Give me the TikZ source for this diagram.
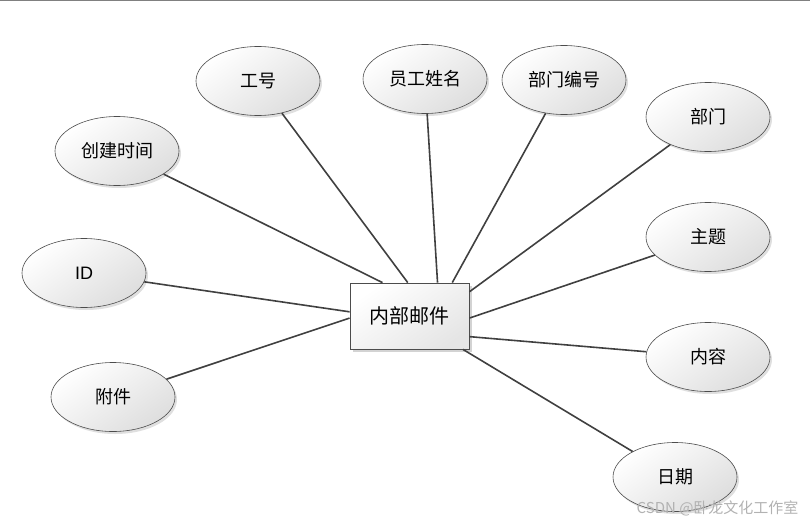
\documentclass[tikz,border=0pt]{standalone}
\usepackage{fontspec}
\setmainfont{Noto Sans CJK SC}
\newfontfamily\latinfont{Liberation Sans}
\usetikzlibrary{shadows,shapes.geometric}

\tikzset{
    attr/.style={ellipse, draw=black!70, line width=0.6pt,
        top color=white, bottom color=black!13, shading angle=35,
        drop shadow={shadow xshift=2pt, shadow yshift=-2.5pt, opacity=0.25},
        minimum width=124pt, minimum height=69pt, inner sep=0pt,
        font=\fontsize{18}{18}\selectfont},
    entity/.style={rectangle, draw=black!70, line width=0.8pt,
        top color=white, bottom color=black!10, shading angle=35,
        drop shadow={shadow xshift=2.5pt, shadow yshift=-2.5pt, opacity=0.35},
        minimum width=119pt, minimum height=66pt, inner sep=0pt,
        font=\fontsize{20}{20}\selectfont},
    link/.style={draw=black!75, line width=1.6pt}
}

\begin{document}
\begin{tikzpicture}[x=1pt, y=-1pt]
    % --- 画布范围 ---
    \useasboundingbox (0,0) rectangle (810,525);
    \draw[black!50, line width=1.5pt] (0,0.5) -- (810,0.5);

    % --- 实体 ---
    \node[entity] (mail) at (409.5,316) {内部邮件};

    % --- 属性 ---
    \node[attr] (gonghao) at (258,81) {工号};
    \node[attr] (xingming) at (425,79) {员工姓名};
    \node[attr] (bianhao) at (564,80) {部门编号};
    \node[attr] (bumen) at (708,117) {部门};
    \node[attr] (chuangjian) at (117,151) {创建时间};
    \node[attr] (id) at (84,273) {\latinfont ID};
    \node[attr] (zhuti) at (708,237) {主题};
    \node[attr] (fujian) at (113,397) {附件};
    \node[attr] (neirong) at (708,357) {内容};
    \node[attr] (riqi) at (675,477) {日期};

    % --- 连线 (落在实体边框上) ---
    \draw[link] (gonghao) -- (mail.93);
    \draw[link] (xingming) -- (mail.50);
    \draw[link] (bianhao) -- (mail.38);
    \draw[link] (chuangjian) -- (mail.129);
    \draw[link] (bumen) -- (mail.22);
    \draw[link] (zhuti) -- (mail.-2);
    \draw[link] (neirong) -- (mail.-19);
    \draw[link] (riqi) -- (mail.-32);
    \draw[link] (id) -- (mail.176);
    \draw[link] (fujian) -- (mail.182);

    % --- 水印 ---
    \node[black!30, font=\fontsize{15}{15}\selectfont, anchor=east] (mark) at (802,508) {CSDN @卧龙文化工作室};
\end{tikzpicture}
\end{document}
